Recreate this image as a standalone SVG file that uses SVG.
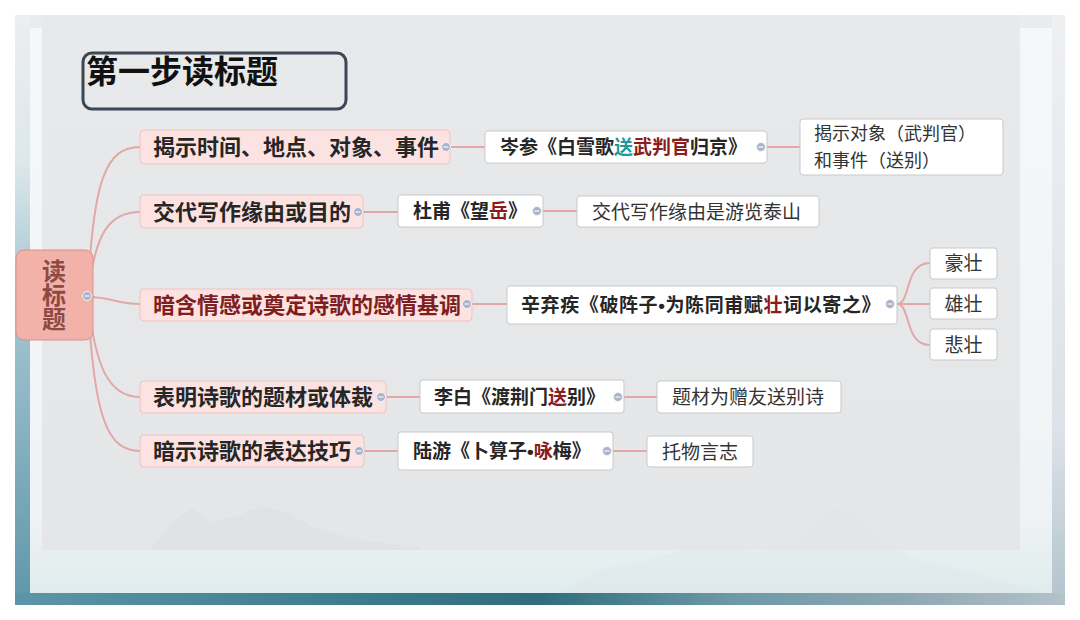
<svg xmlns="http://www.w3.org/2000/svg" width="1080" height="620" viewBox="0 0 1080 620">
<style>
text{font-family:"Noto Sans CJK SC","Noto Sans",sans-serif}
.l1{fill:#fce3e2;stroke:#efc3c1;stroke-width:1}
.l2{fill:#ffffff;stroke:#c9c9c9;stroke-width:1}
.t1{font-size:22px;font-weight:700;fill:#262626}
.t2{font-size:19px;font-weight:700;fill:#262626}
.t3{font-size:19px;font-weight:400;fill:#333333}
.red{fill:#8a1c1c}
.teal{fill:#1f9a9a}
.dot{font-family:"Liberation Sans",sans-serif}
.con path{fill:none;stroke:#e2a8a5;stroke-width:2}
.tog circle{fill:#aab4c9;stroke:#f4f4f8;stroke-width:1}
.tog path{stroke:#eef0f6;stroke-width:1.4}
</style>
<defs>
<linearGradient id="frameL" x1="0" y1="0" x2="0" y2="1">
<stop offset="0" stop-color="#eceef0"/><stop offset="0.25" stop-color="#dde7ec"/><stop offset="0.45" stop-color="#a9c9d4"/><stop offset="1" stop-color="#5f96a9"/>
</linearGradient>
<linearGradient id="frameR" x1="0" y1="0" x2="0" y2="1">
<stop offset="0" stop-color="#eef0f2"/><stop offset="0.7" stop-color="#dde2e8"/><stop offset="1" stop-color="#b3c3cc"/>
</linearGradient>
<linearGradient id="frameB" x1="0" y1="0" x2="1" y2="0">
<stop offset="0" stop-color="#5c95a7"/><stop offset="0.3" stop-color="#3f7e8f"/><stop offset="0.5" stop-color="#2f6d7d"/><stop offset="0.68" stop-color="#6c98a7"/><stop offset="0.85" stop-color="#8ea8b3"/><stop offset="1" stop-color="#b4c2ca"/>
</linearGradient>
<linearGradient id="inner" x1="0" y1="0" x2="0" y2="1">
<stop offset="0" stop-color="#f6f7f9"/><stop offset="0.85" stop-color="#f0f3f5"/><stop offset="1" stop-color="#dfeced"/>
</linearGradient>
<linearGradient id="panel" x1="0" y1="0" x2="0" y2="1">
<stop offset="0" stop-color="#e8e9eb"/><stop offset="1" stop-color="#e4e6e7"/>
</linearGradient>
</defs>

<g id="background">
<rect x="0" y="0" width="1080" height="620" fill="#ffffff"/>
<rect x="15" y="15" width="1050" height="590" fill="#e9ecef"/>
<rect x="15" y="15" width="15" height="590" fill="url(#frameL)"/>
<rect x="1052" y="15" width="13" height="590" fill="url(#frameR)"/>
<rect x="15" y="593" width="1050" height="12" fill="url(#frameB)"/>
<rect x="30" y="28" width="1022" height="565" fill="url(#inner)"/>
<rect x="42" y="15" width="978" height="535" fill="url(#panel)"/>
<path d="M150 550 L175 520 L192 508 L210 522 L240 515 L262 506 L285 512 L320 530 L360 540 L420 548 L420 550 Z" fill="#dcdfe1" opacity="0.5"/>
<path d="M560 593 L600 570 L650 560 L700 545 L760 552 L800 540 L830 510 L850 505 L880 540 L920 560 L980 575 L1040 593 Z" fill="#dfe5e8" opacity="0.4"/>
</g>

<g id="title">
<rect x="83" y="53" width="263" height="56" rx="9" fill="none" stroke="#3c4755" stroke-width="3"/>
<text x="86" y="83" font-size="32" font-weight="700" fill="#111111">第一步读标题</text>
</g>

<g class="con" id="connectors">
<path d="M88 292 C93 180 106 147 140 147"/>
<path d="M88 294 C95 235 108 212 140 212"/>
<path d="M88 297 C112 297 116 304 140 304"/>
<path d="M88 300 C95 365 108 397 140 397"/>
<path d="M88 302 C94 420 108 451 140 451"/>
<path d="M450 147 H485"/>
<path d="M363 212 H398"/>
<path d="M472 304 H507"/>
<path d="M386 397 H420"/>
<path d="M364 451 H398"/>
<path d="M767 147 H800"/>
<path d="M543 211 H577"/>
<path d="M897 304 H930"/>
<path d="M897 304 C911 304 904 263 930 263"/>
<path d="M897 304 C911 304 904 345 930 345"/>
<path d="M624 397 H657"/>
<path d="M613 451 H647"/>
</g>

<g id="root">
<rect x="16" y="250" width="77" height="90" rx="8" fill="#f2b2a9" stroke="#d8918a" stroke-width="1"/>
<text x="54" y="259" font-size="24" font-weight="700" fill="#8d4a45" writing-mode="vertical-rl">读标题</text>
</g>

<g id="n1"><rect class="l1" x="140" y="130" width="310" height="34" rx="4"/><text class="t1" x="153" y="155">揭示时间、地点、对象、事件</text></g>
<g id="n2"><rect class="l1" x="140" y="195" width="223" height="33" rx="4"/><text class="t1" x="153" y="219.5">交代写作缘由或目的</text></g>
<g id="n3"><rect class="l1" x="140" y="289" width="332" height="32" rx="4"/><text class="t1" x="153" y="313" style="fill:#7e1e1e">暗含情感或奠定诗歌的感情基调</text></g>
<g id="n4"><rect class="l1" x="140" y="381" width="246" height="32" rx="4"/><text class="t1" x="153" y="405">表明诗歌的题材或体裁</text></g>
<g id="n5"><rect class="l1" x="140" y="435" width="224" height="32" rx="4"/><text class="t1" x="153" y="459">暗示诗歌的表达技巧</text></g>

<g id="n1a"><rect class="l2" x="485" y="131" width="282" height="32" rx="3"/><text class="t2" x="500" y="154">岑参《白雪歌<tspan class="teal">送</tspan><tspan class="red">武判官</tspan>归京》</text></g>
<g id="n2a"><rect class="l2" x="398" y="195" width="145" height="32" rx="3"/><text class="t2" x="413" y="218">杜甫《望<tspan class="red">岳</tspan>》</text></g>
<g id="n3a"><rect class="l2" x="507" y="286" width="390" height="38" rx="3"/><text class="t2" x="521" y="312" letter-spacing="0.6">辛弃疾《破阵子<tspan class="dot">•</tspan>为陈同甫赋<tspan class="red">壮</tspan>词以寄之》</text></g>
<g id="n4a"><rect class="l2" x="420" y="380" width="204" height="33" rx="3"/><text class="t2" x="434" y="403.5">李白《渡荆门<tspan class="red">送</tspan>别》</text></g>
<g id="n5a"><rect class="l2" x="398" y="432" width="215" height="38" rx="3"/><text class="t2" x="413" y="458">陆游《卜算子<tspan class="dot">•</tspan><tspan class="red">咏</tspan>梅》</text></g>

<g id="n1b"><rect class="l2" x="800" y="119" width="203" height="56" rx="3"/><text class="t3" x="814" y="140" font-size="18" style="font-size:18px">揭示对象（武判官）</text><text class="t3" x="814" y="167" style="font-size:18px">和事件（送别）</text></g>
<g id="n2b"><rect class="l2" x="577" y="196" width="242" height="31" rx="3"/><text class="t3" x="592" y="218.5">交代写作缘由是游览泰山</text></g>
<g id="n3b"><rect class="l2" x="930" y="248" width="67" height="31" rx="3"/><text class="t3" x="963.5" y="270" text-anchor="middle">豪壮</text></g>
<g id="n3c"><rect class="l2" x="930" y="288" width="67" height="31" rx="3"/><text class="t3" x="963.5" y="311" text-anchor="middle">雄壮</text></g>
<g id="n3d"><rect class="l2" x="930" y="329" width="67" height="31" rx="3"/><text class="t3" x="963.5" y="352" text-anchor="middle">悲壮</text></g>
<g id="n4b"><rect class="l2" x="657" y="381" width="184" height="32" rx="3"/><text class="t3" x="672" y="404">题材为赠友送别诗</text></g>
<g id="n5b"><rect class="l2" x="647" y="436" width="106" height="31" rx="3"/><text class="t3" x="662" y="459">托物言志</text></g>

<g class="tog" id="toggles">
<circle cx="87" cy="296" r="4.5"/><path d="M84.5 296 H89.5"/>
<circle cx="446" cy="147" r="4.5"/><path d="M443.5 147 H448.5"/>
<circle cx="358" cy="212" r="4.5"/><path d="M355.5 212 H360.5"/>
<circle cx="467" cy="304" r="4.5"/><path d="M464.5 304 H469.5"/>
<circle cx="381" cy="397" r="4.5"/><path d="M378.5 397 H383.5"/>
<circle cx="359" cy="451" r="4.5"/><path d="M356.5 451 H361.5"/>
<circle cx="761" cy="147" r="4.5"/><path d="M758.5 147 H763.5"/>
<circle cx="537" cy="211" r="4.5"/><path d="M534.5 211 H539.5"/>
<circle cx="890" cy="304" r="4.5"/><path d="M887.5 304 H892.5"/>
<circle cx="618" cy="397" r="4.5"/><path d="M615.5 397 H620.5"/>
<circle cx="607" cy="451" r="4.5"/><path d="M604.5 451 H609.5"/>
</g>
</svg>
